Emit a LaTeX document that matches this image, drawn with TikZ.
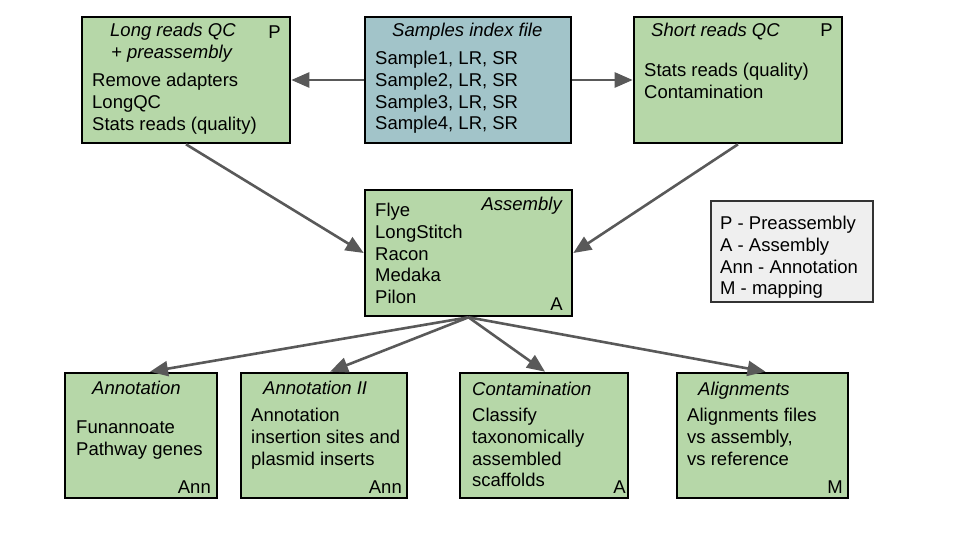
\documentclass[tikz,border=0pt]{standalone}
\usepackage{fontspec}
\setmainfont{Liberation Sans}
\usepackage{tikz}
\usetikzlibrary{arrows.meta}

\definecolor{stagegreen}{HTML}{B6D7A8}
\definecolor{indexblue}{HTML}{A2C4C9}
\definecolor{legendgray}{HTML}{EFEFEF}
\definecolor{arrowgray}{HTML}{595959}

\begin{document}
\begin{tikzpicture}[x=1pt, y=-1pt]
		\tikzstyle{stage} = [rectangle, draw=black, line width=2.6pt, fill=stagegreen, minimum height=126pt, inner sep=0pt]
		\tikzstyle{index_file} = [stage, fill=indexblue]
		\tikzstyle{legend_box} = [rectangle, draw=black!80, line width=1.4pt, fill=legendgray, inner sep=0pt]
		\tikzstyle{title} = [anchor=base west, inner sep=0pt, font=\fontsize{18.5}{22}\selectfont\itshape]
		\tikzstyle{tag} = [anchor=base east, inner sep=0pt, font=\fontsize{18.5}{22}\selectfont]
		\tikzstyle{body} = [anchor=north west, inner sep=0pt, align=left, font=\fontsize{18.5}{21.7}\selectfont]
		\tikzstyle{flow} = [draw=arrowgray, line width=2.6pt, -{Triangle[length=18pt, width=15pt]}]

		\useasboundingbox (0,0) rectangle (960,540);

		% Top row
		\node (lrqc) [stage, minimum width=208pt] at (186,80) {};
		\node (lrqc_title) [title] at (110,37) {Long reads QC};
		\node (lrqc_title2) [title] at (111,59) {+ preassembly};
		\node (lrqc_tag) [tag] at (281,39) {P};
		\node (lrqc_body) [body] at (92,73) {Remove adapters\\LongQC\\Stats reads (quality)};

		\node (samples) [index_file, minimum width=206pt] at (468,80) {};
		\node (samples_title) [title] at (392,37) {Samples index file};
		\node (samples_body) [body] at (375,51) {Sample1, LR, SR\\Sample2, LR, SR\\Sample3, LR, SR\\Sample4, LR, SR};

		\node (srqc) [stage, minimum width=208pt] at (738,80) {};
		\node (srqc_title) [title] at (651,37) {Short reads QC};
		\node (srqc_tag) [tag] at (833,37) {P};
		\node (srqc_body) [body] at (644,63) {Stats reads (quality)\\Contamination};

		% Assembly
		\node (assembly) [stage, minimum width=207pt] at (468.5,253) {};
		\node (assembly_title) [title, anchor=base east] at (562,210) {Assembly};
		\node (assembly_tag) [tag] at (563,310) {A};
		\node (assembly_body) [body] at (375,203) {Flye\\LongStitch\\Racon\\Medaka\\Pilon};

		% Legend
		\node (legend) [legend_box, minimum width=162pt, minimum height=101pt] at (792,251.5) {};
		\node (legend_body) [body] at (720,216) {P - Preassembly\\A - Assembly\\Ann - Annotation\\M - mapping};

		% Bottom row
		\node (ann) [stage, minimum width=152pt, minimum height=125pt] at (141,435.5) {};
		\node (ann_title) [title] at (92,394) {Annotation};
		\node (ann_tag) [tag] at (211,493) {Ann};
		\node (ann_body) [body] at (76,421) {Funannoate\\Pathway genes};

		\node (ann2) [stage, minimum width=166pt, minimum height=125pt] at (324,435.5) {};
		\node (ann2_title) [title] at (263,394) {Annotation II};
		\node (ann2_tag) [tag] at (402,493) {Ann};
		\node (ann2_body) [body] at (251,408) {Annotation\\insertion sites and\\plasmid inserts};

		\node (cont) [stage, minimum width=168pt, minimum height=125pt] at (544,435.5) {};
		\node (cont_title) [title] at (472,395) {Contamination};
		\node (cont_tag) [tag] at (626,493) {A};
		\node (cont_body) [body] at (472,408) {Classify\\taxonomically\\assembled\\scaffolds};

		\node (align) [stage, minimum width=171pt, minimum height=125pt] at (762.5,435.5) {};
		\node (align_title) [title] at (698,395) {Alignments};
		\node (align_tag) [tag] at (843,493) {M};
		\node (align_body) [body] at (687,408) {Alignments files\\vs assembly,\\vs reference};

		% Connectors
		\draw[flow] (samples) -- (lrqc);
		\draw[flow] (samples) -- (srqc);
		\draw[flow] (lrqc.south) -- (assembly.west);
		\draw[flow] (srqc.south) -- (assembly.east);
		\foreach \target/\shift in {ann/9, ann2/6, cont/1, align/3}
		\draw[flow] (assembly.south) -- ([xshift=\shift pt]\target.north);
	\end{tikzpicture}
\end{document}
